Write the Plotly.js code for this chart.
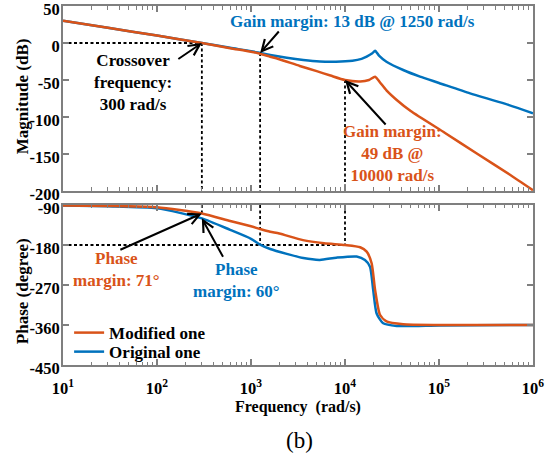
<!DOCTYPE html>
<html>
<head>
<meta charset="utf-8">
<script src="https://cdn.plot.ly/plotly-3.0.1.min.js"></script>
<style>html,body{margin:0;padding:0;background:#fff;}#chart{width:559px;height:454px;}</style>
</head>
<body>
<div id="chart"></div>
<script>
// ---------- DATA ----------
const seriesNames = ["Modified one", "Original one"];

// Magnitude (dB)
const magFreqModified = [10, 30, 100, 300, 600, 1000, 1250, 1600, 2000, 3300, 5000, 7000, 10000, 14500, 18000, 20900, 23500, 27600, 35500, 50000, 116000, 250000, 569000, 1000000];
const magModified     = [30, 20.5, 10, 0, -7, -11.8, -14.5, -18.5, -22, -31, -38, -44, -50, -52, -50, -45.5, -53, -64, -77, -92, -121.6, -149, -178, -199];

const magFreqOriginal = [10, 30, 100, 300, 600, 1000, 1250, 1600, 2400, 3600, 5400, 8000, 12000, 15000, 17000, 19500, 20900, 23000, 27600, 41600, 62800, 100000, 214000, 500000, 1000000];
const magOriginal     = [30, 20.5, 10, 0, -6.5, -11, -13.5, -16.2, -20, -23, -25, -25.3, -24, -21.5, -18.5, -14, -10.4, -17, -25.3, -36.5, -45.5, -54, -68, -82, -95];

// Phase (degree)
const phFreqModified = [10, 30, 100, 300, 600, 1000, 1250, 1600, 2000, 3570, 6000, 10000, 14500, 17000, 19200, 20900, 23550, 27600, 41600, 100000, 1000000];
const phModified     = [-91, -92, -95, -109, -126, -138, -144, -150, -154, -169, -176, -180, -185, -195, -221, -281, -337, -352, -358.5, -360, -360];

const phFreqOriginal = [10, 30, 100, 300, 600, 1000, 1250, 1600, 2400, 3600, 5400, 8100, 13300, 16300, 18450, 19950, 21700, 25500, 35500, 100000, 1000000];
const phOriginal     = [-91, -93, -97.5, -120, -146, -166, -179, -189, -200, -209.5, -213.5, -208.5, -206, -214, -229, -281, -334, -356, -362, -361, -360];

// Margin markers
const crossoverFreq = 300;      // rad/s, 0 dB
const gmFreqOriginal = 1250;    // rad/s
const gmOriginal = -13.5;       // dB at gmFreqOriginal
const gmFreqModified = 10000;   // rad/s
const gmModified = -50;         // dB at gmFreqModified
const pmPhaseModified = -109;   // deg at crossover
const pmPhaseOriginal = -120;   // deg at crossover
const phase180 = -180;
const fMin = 10, fMax = 1000000;
const magMin = -200, magMax = 50;
const phMin = -450, phMax = -90;

// Tick labels
const xTickVals = [10, 100, 1000, 10000, 100000, 1000000];
const xTickText = ["10<sup>1</sup>", "10<sup>2</sup>", "10<sup>3</sup>", "10<sup>4</sup>", "10<sup>5</sup>", "10<sup>6</sup>"];
const magTickVals = [50, 0, -50, -100, -150, -200];
const magTickText = ["50", "0", "-50", "-100", "-150", "-200"];
const phTickVals = [-90, -180, -270, -360, -450];
const phTickText = ["-90", "-180", "-270", "-360", "-450"];

// ---------- STYLE ----------
const ORANGE = "#D95319", BLUE = "#0072BD";
const FONT = "Liberation Serif, Times New Roman, serif";
const minorVals = [];
for (let d = 1; d < 6; d++) for (let k = 2; k <= 9; k++) minorVals.push(k * Math.pow(10, d));

const dashStyle = {color: "black", width: 1.8, dash: "3px,2.5px"};
const curve = (c) => ({color: c, width: 2.5, shape: "spline", smoothing: 0.6});

const traces = [
  {x: [fMin, crossoverFreq, null, crossoverFreq, crossoverFreq, null, gmFreqOriginal, gmFreqOriginal, null, gmFreqModified, gmFreqModified],
   y: [0, 0, null, 0, magMin, null, gmOriginal, magMin, null, gmModified, magMin],
   xaxis: "x", yaxis: "y", mode: "lines", line: dashStyle, showlegend: false, hoverinfo: "skip"},
  {x: [fMin, gmFreqModified, null, crossoverFreq, crossoverFreq, null, gmFreqOriginal, gmFreqOriginal, null, gmFreqModified, gmFreqModified],
   y: [phase180, phase180, null, phMax, pmPhaseModified, null, phMax, phase180, null, phMax, phase180],
   xaxis: "x2", yaxis: "y2", mode: "lines", line: dashStyle, showlegend: false, hoverinfo: "skip"},
  {x: magFreqOriginal, y: magOriginal, xaxis: "x", yaxis: "y", mode: "lines", line: curve(BLUE), showlegend: false, name: seriesNames[1]},
  {x: magFreqModified, y: magModified, xaxis: "x", yaxis: "y", mode: "lines", line: curve(ORANGE), showlegend: false, name: seriesNames[0]},
  {x: phFreqOriginal, y: phOriginal, xaxis: "x2", yaxis: "y2", mode: "lines", line: curve(BLUE), name: seriesNames[1], legend: "legend2"},
  {x: phFreqModified, y: phModified, xaxis: "x2", yaxis: "y2", mode: "lines", line: curve(ORANGE), name: seriesNames[0], legend: "legend"}
];

const axisCommon = {
  showline: true, linecolor: "#7f7f7f", linewidth: 2, mirror: "ticks",
  ticks: "inside", ticklen: 6, tickwidth: 1.5, tickcolor: "#7f7f7f",
  showgrid: false, zeroline: false, automargin: false, ticklabeloverflow: "allow",
  tickfont: {family: FONT, size: 16.5, color: "black", weight: "bold"}
};
const xCommon = Object.assign({}, axisCommon, {
  type: "log", range: [Math.log10(fMin), Math.log10(fMax)],
  tickmode: "array", tickvals: xTickVals, ticktext: xTickText,
  minor: {tickmode: "array", tickvals: minorVals, ticks: "inside", ticklen: 3.5, tickwidth: 1.2, tickcolor: "#7f7f7f", showgrid: false}
});

function arrow(xref, yref, f, v, ax, ay) {
  return {xref: xref, yref: yref, x: Math.log10(f), y: v, ax: ax, ay: ay, text: "", showarrow: true,
          arrowhead: 5, arrowsize: 1.1, arrowwidth: 2, arrowcolor: "black", standoff: 0, startstandoff: 0,
          font: {size: 1}};
}
function label(xref, yref, f, v, txt, color) {
  return {xref: xref, yref: yref, x: Math.log10(f), y: v, text: txt, showarrow: false,
          xanchor: "center", yanchor: "middle", align: "center",
          font: {family: FONT, size: 17, color: color, weight: "bold"}};
}
function ytitle(txt, yPaper) {
  return {xref: "paper", yref: "paper", x: -0.087, y: yPaper, text: txt, textangle: -90, showarrow: false,
          xanchor: "center", yanchor: "middle", font: {family: FONT, size: 17, color: "black", weight: "bold"}};
}
const legendFont = {family: FONT, size: 17, color: "black", weight: "bold"};

const layout = {
  width: 559, height: 454,
  margin: {l: 63, r: 26, t: 6, b: 89},
  paper_bgcolor: "white", plot_bgcolor: "white",
  font: {family: FONT, color: "black"},
  xaxis: Object.assign({}, xCommon, {anchor: "y", showticklabels: false, domain: [0, 1]}),
  yaxis: Object.assign({}, axisCommon, {domain: [0.4847, 1], range: [magMin, magMax], tickmode: "array", tickvals: magTickVals, ticktext: magTickText, ticklabelstandoff: -2, ticklabelshift: 3}),
  xaxis2: Object.assign({}, xCommon, {anchor: "y2", domain: [0, 1], ticklabelstandoff: 7,
         title: {text: "Frequency  (rad/s)", font: {family: FONT, size: 16, color: "black", weight: "bold"}, standoff: 4}}),
  yaxis2: Object.assign({}, axisCommon, {domain: [0, 0.4457], range: [phMin, phMax], tickmode: "array", tickvals: phTickVals, ticktext: phTickText, ticklabelstandoff: -2, ticklabelshift: 3}),
  showlegend: true,
  legend: {x: 0.013, y: 0.089, xanchor: "left", yanchor: "middle", bgcolor: "rgba(0,0,0,0)", borderwidth: 0, font: legendFont},
  legend2: {x: 0.013, y: 0.036, xanchor: "left", yanchor: "middle", bgcolor: "rgba(0,0,0,0)", borderwidth: 0, font: legendFont},
  annotations: [
    ytitle("Magnitude (dB)", 0.749),
    ytitle("Phase (degree)", 0.206),
    label("x", "y", Math.pow(10, 1.745), -54, "Crossover<br>frequency:<br>300 rad/s", "black"),
    label("x", "y", Math.pow(10, 4.085), 28.4, "Gain margin: 13 dB @ 1250 rad/s", BLUE),
    label("x", "y", Math.pow(10, 4.51), -150, "Gain margin:<br>49 dB @<br>10000 rad/s", ORANGE),
    label("x2", "y2", Math.pow(10, 1.564), -236, "Phase<br>margin: 71°", ORANGE),
    label("x2", "y2", Math.pow(10, 2.851), -259, "Phase<br>margin: 60°", BLUE),
    arrow("x", "y", crossoverFreq, 0, -25, 17),
    arrow("x", "y", gmFreqOriginal, gmOriginal, 20, -23),
    arrow("x", "y", gmFreqModified, gmModified, 42, 46),
    arrow("x2", "y2", crossoverFreq, pmPhaseModified, -83, 37),
    arrow("x2", "y2", crossoverFreq, pmPhaseOriginal, 22, 40),
    {xref: "paper", yref: "paper", x: 0.504, y: -0.209, text: "(b)", showarrow: false, xanchor: "center", yanchor: "middle",
     font: {family: FONT, size: 23, color: "black"}}
  ]
};

Plotly.newPlot("chart", traces, layout, {displayModeBar: false, staticPlot: true});
</script>
</body>
</html>
